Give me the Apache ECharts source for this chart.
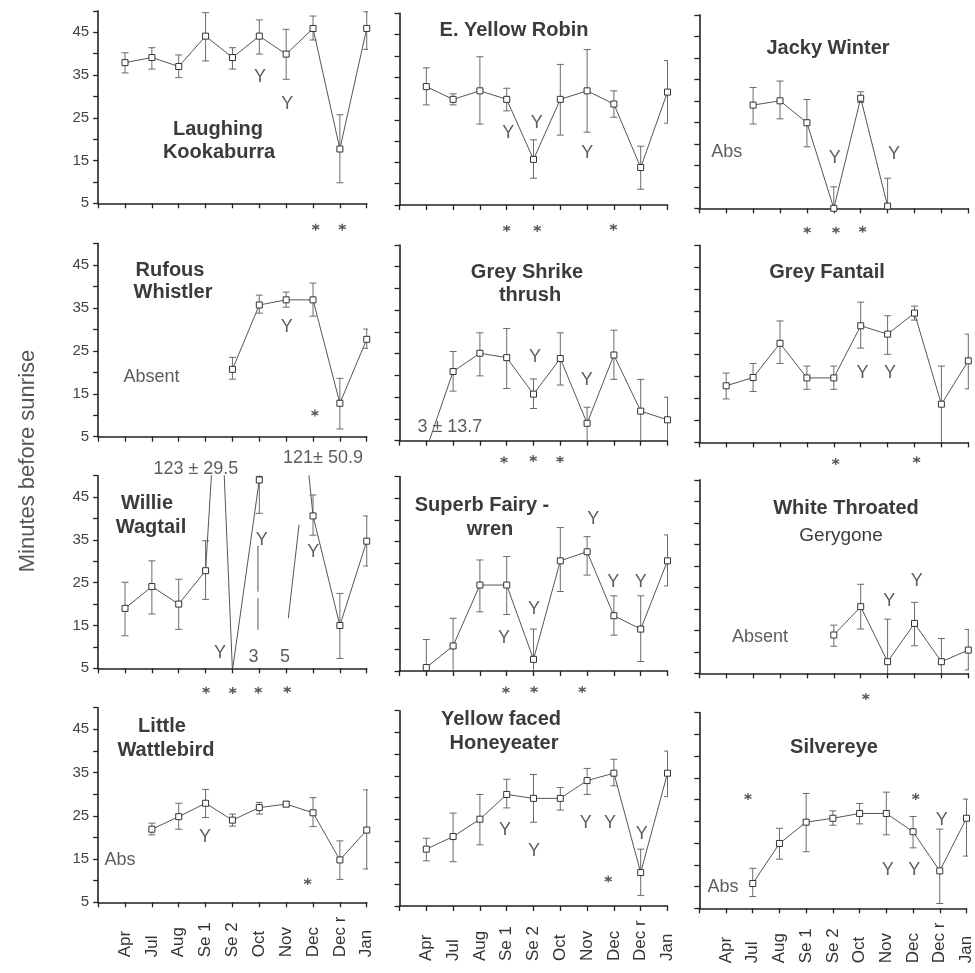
<!DOCTYPE html>
<html><head><meta charset="utf-8">
<script src="https://cdn.jsdelivr.net/npm/echarts@6/dist/echarts.min.js"></script>
<style>html,body{margin:0;padding:0;background:#fff}#c{width:975px;height:973px}</style>
</head><body><div id="c"></div>
<script>
// ---------- categories / ticks ----------
const months = ['Apr','Jul','Aug','Se 1','Se 2','Oct','Nov','Dec','Dec r','Jan'];
const yTickLabels = [5,15,25,35,45];

// ---------- series values (mean, lower, upper) ----------
const kookMean = [37.9,39.1,37.0,44.1,39.1,44.1,39.9,45.9,17.7,45.9];
const kookLow  = [35.5,36.4,34.4,38.3,36.4,39.9,34.0,43.2,9.8,41.0];
const kookHigh = [40.2,41.4,39.7,49.6,41.4,47.9,45.7,48.8,25.7,49.8];

const robinMean = [32.8,29.8,31.8,29.8,15.7,29.8,31.8,28.7,13.8,31.5];
const robinLow  = [28.5,28.5,24.0,27.1,11.3,21.4,22.1,25.6,8.7,24.2];
const robinHigh = [37.2,31.1,39.8,32.4,20.3,38.0,41.5,31.8,18.8,38.9];

const jackyMean = [null,29.0,30.0,24.9,5.0,30.6,5.5,null,null,null];
const jackyLow  = [null,24.6,25.8,19.3,2.0,29.6,2.0,null,null,null];
const jackyHigh = [null,33.1,34.6,30.3,10.0,32.1,12.0,null,null,null];

const rufousMean = [null,null,null,null,20.7,35.7,36.9,36.9,12.8,27.7];
const rufousLow  = [null,null,null,null,18.4,33.8,35.2,33.1,6.8,25.6];
const rufousHigh = [null,null,null,null,23.5,38.0,38.7,40.8,18.6,30.1];

const shrikeMean = [3.0,20.9,25.1,24.1,15.7,23.9,9.0,24.7,11.8,9.8];
const shrikeLow  = [null,16.4,19.9,17.0,12.4,17.8,2.0,19.1,2.0,2.0];
const shrikeHigh = [null,25.5,29.8,30.8,19.2,29.8,12.7,30.4,19.1,15.0];

const fantailMean = [17.9,19.8,27.6,19.7,19.7,31.6,29.7,34.5,13.7,23.6];
const fantailLow  = [14.9,16.6,23.0,17.1,17.1,26.5,25.1,32.9,2.0,17.2];
const fantailHigh = [20.8,23.0,32.7,22.4,22.4,37.0,33.9,36.1,22.4,29.7];

const wagtailMean = [19.0,24.1,20.0,27.8,4.5,49.0,103,40.6,15.0,34.7];
const wagtailLow  = [12.6,17.7,14.1,21.1,null,41.2,null,36.1,7.3,28.9];
const wagtailHigh = [25.1,30.1,25.8,34.8,null,49.8,null,45.5,22.5,40.6];
const wagtailPeak = [3.5,79];            // broken-axis peak between Se 1 and Se 2
const wagtailFragments = [               // stray line pieces in the scan
  [[4.95,33.6],[4.95,22.9]],
  [[4.95,21.4],[4.95,14.0]],
  [[6.08,16.7],[6.48,38.5]]
];

const wrenMean = [5.8,10.8,24.9,24.9,7.7,30.5,32.6,17.8,14.7,30.5];
const wrenLow  = [2.0,2.0,18.7,18.1,2.0,23.4,27.2,13.3,7.2,24.7];
const wrenHigh = [12.3,17.2,30.7,31.5,14.7,38.2,36.1,22.4,22.4,36.5];

const gerygoneMean = [null,null,null,null,13.9,20.5,7.7,16.6,7.7,10.4];
const gerygoneLow  = [null,null,null,null,11.3,15.3,2.0,11.4,2.0,5.8];
const gerygoneHigh = [null,null,null,null,16.2,25.7,17.6,21.5,13.1,15.2];

const wattleMean = [null,21.9,24.8,27.9,24.0,26.9,27.7,25.7,14.8,21.7];
const wattleLow  = [null,20.6,21.9,24.6,22.6,25.4,27.1,22.5,10.3,12.7];
const wattleHigh = [null,23.3,27.9,31.1,25.4,28.1,28.3,29.2,19.2,31.0];

const honeyMean = [18.1,21.0,25.0,30.7,29.8,29.8,33.9,35.6,12.7,35.6];
const honeyLow  = [15.4,15.2,19.1,27.6,24.3,27.1,30.7,32.7,7.4,30.2];
const honeyHigh = [20.6,26.4,30.7,34.2,35.3,32.3,36.7,38.8,18.1,40.7];

const silverMean = [null,10.7,19.9,24.8,25.7,26.8,26.8,22.6,13.6,25.7];
const silverLow  = [null,7.7,16.3,18.0,24.1,24.4,21.9,18.9,6.1,17.0];
const silverHigh = [null,14.2,23.4,31.4,27.4,29.1,31.7,26.1,23.2,30.1];

// ---------- annotations [x, value, text] and significance stars [x, value] ----------
const kookNotes = [[5.03,34.6,'Y'],[6.04,28.2,'Y']];
const kookStars = [[7.1,-0.6],[8.09,-0.6]];
const robinNotes = [[3.06,21.8,'Y'],[4.12,24.2,'Y'],[6.01,17.3,'Y']];
const robinStars = [[3.0,-0.5],[4.14,-0.5],[6.98,-0.2]];
const jackyNotes = [[0.02,18.2,'Abs'],[4.04,16.6,'Y'],[6.24,17.6,'Y']];
const jackyStars = [[3.01,-0.1],[4.08,-0.1],[5.07,0.1]];
const rufousNotes = [[0.99,19.0,'Absent'],[6.02,30.6,'Y']];
const rufousStars = [[7.07,10.5]];
const shrikeNotes = [[0.88,8.1,'3 ± 13.7'],[4.06,24.3,'Y'],[5.99,19.0,'Y']];
const shrikeStars = [[2.9,0.6],[3.99,0.9],[4.99,0.7]];
const fantailNotes = [[5.07,20.8,'Y'],[6.09,20.8,'Y']];
const fantailStars = [[4.07,0.6],[7.08,1.0]];
const wagtailNotes = [[2.64,51.6,'123 ± 29.5'],[7.37,54.1,'121± 50.9'],[5.09,35.0,'Y'],[7.01,32.2,'Y'],[3.54,8.5,'Y'],[4.78,7.7,'3'],[5.96,7.7,'5']];
const wagtailStars = [[3.02,-0.1],[4.01,-0.2],[4.96,-0.1],[6.04,0.0]];
const wrenNotes = [[2.9,12.6,'Y'],[4.02,19.3,'Y'],[6.23,40.1,'Y'],[6.98,25.7,'Y'],[8.0,25.7,'Y']];
const wrenStars = [[2.97,0.6],[4.02,0.7],[5.82,0.7]];
const gerygoneNotes = [[1.26,13.5,'Absent'],[6.06,21.7,'Y'],[7.08,26.5,'Y']];
const gerygoneStars = [[5.19,-0.4]];
const wattleNotes = [[-0.19,14.8,'Abs'],[2.98,20.2,'Y']];
const wattleStars = [[6.8,9.8]];
const honeyNotes = [[2.94,22.5,'Y'],[4.02,17.7,'Y'],[5.95,24.2,'Y'],[6.85,24.2,'Y'],[8.04,21.5,'Y']];
const honeyStars = [[6.79,11.2]];
const silverNotes = [[-0.11,10.0,'Abs'],[8.07,25.3,'Y'],[6.05,13.8,'Y'],[7.04,13.8,'Y']];
const silverStars = [[0.82,30.7],[7.1,30.7]];

// ---------- panel titles ----------
const titleLines = [
  ['Laughing',218,129,true],['Kookaburra',219,152,true],
  ['E. Yellow Robin',514,30,true],
  ['Jacky Winter',828,48,true],
  ['Rufous',170,270,true],['Whistler',173,292,true],
  ['Grey Shrike',527,272,true],['thrush',530,295,true],
  ['Grey Fantail',827,272,true],
  ['Willie',147,503,true],['Wagtail',151,527,true],
  ['Superb Fairy -',482,505,true],['wren',490,529,true],
  ['White Throated',846,508,true],['Gerygone',841,536,false],
  ['Little',162,726,true],['Wattlebird',166,750,true],
  ['Yellow faced',501,719,true],['Honeyeater',504,743,true],
  ['Silvereye',834,747,true]
];

// ---------- layout ----------
const colFirst = [125, 426.3, 726.2];
const colStep = [26.86, 26.8, 26.9];
const panelBottom = [203.3,205,208.3, 436.7,440.7,442.3, 668.3,671,673.3, 902.3,906,908.3];
const panelPPU = [4.275,4.26,4.3, 4.29,4.35,4.38, 4.28,4.32,4.3, 4.325,4.34,4.35];

const panels = [
  {m:kookMean,l:kookLow,h:kookHigh,n:kookNotes,s:kookStars},
  {m:robinMean,l:robinLow,h:robinHigh,n:robinNotes,s:robinStars},
  {m:jackyMean,l:jackyLow,h:jackyHigh,n:jackyNotes,s:jackyStars},
  {m:rufousMean,l:rufousLow,h:rufousHigh,n:rufousNotes,s:rufousStars},
  {m:shrikeMean,l:shrikeLow,h:shrikeHigh,n:shrikeNotes,s:shrikeStars},
  {m:fantailMean,l:fantailLow,h:fantailHigh,n:fantailNotes,s:fantailStars},
  {m:wagtailMean,l:wagtailLow,h:wagtailHigh,n:wagtailNotes,s:wagtailStars,peak:wagtailPeak,frag:wagtailFragments},
  {m:wrenMean,l:wrenLow,h:wrenHigh,n:wrenNotes,s:wrenStars},
  {m:gerygoneMean,l:gerygoneLow,h:gerygoneHigh,n:gerygoneNotes,s:gerygoneStars},
  {m:wattleMean,l:wattleLow,h:wattleHigh,n:wattleNotes,s:wattleStars},
  {m:honeyMean,l:honeyLow,h:honeyHigh,n:honeyNotes,s:honeyStars},
  {m:silverMean,l:silverLow,h:silverHigh,n:silverNotes,s:silverStars}
];

const FONT = 'Liberation Sans, Arial, Helvetica, sans-serif';
const AX = '#222';
const YMIN = 5, YMAX = 50;

const grids = [], xAxes = [], yAxes = [], series = [];

function renderErr(params, api) {
  const x = api.value(0), lo = api.value(1), hi = api.value(2);
  const loC = Math.max(lo, YMIN), hiC = Math.min(hi, YMAX);
  const p1 = api.coord([x, loC]), p2 = api.coord([x, hiC]);
  const w = 3.5;
  const st = {stroke:'#6a6a6a', lineWidth:1};
  const ch = [{type:'line', shape:{x1:p1[0],y1:p1[1],x2:p2[0],y2:p2[1]}, style:st}];
  if (lo >= YMIN) ch.push({type:'line', shape:{x1:p1[0]-w,y1:p1[1],x2:p1[0]+w,y2:p1[1]}, style:st});
  if (hi <= YMAX) ch.push({type:'line', shape:{x1:p2[0]-w,y1:p2[1],x2:p2[0]+w,y2:p2[1]}, style:st});
  return {type:'group', children:ch};
}

const starPath = 'path://M5,0L5,10M0.67,2.5L9.33,7.5M0.67,7.5L9.33,2.5';

panels.forEach((p, k) => {
  const r = Math.floor(k/3), c = k%3;
  const h = 45*panelPPU[k];
  grids.push({left: colFirst[c]-colStep[c], width: 10*colStep[c], top: panelBottom[k]-h, height: h, containLabel:false});
  xAxes.push({
    type:'value', gridIndex:k, min:-1, max:9, interval:1,
    axisLine:{show:true, onZero:false, lineStyle:{color:AX, width:1.6}},
    axisTick:{show:true, length:5, lineStyle:{color:AX, width:1.3}},
    splitLine:{show:false},
    axisLabel:{show: r===3, rotate:90, align:'left', verticalAlign:'middle', margin:55,
      fontFamily:FONT, fontSize:17, color:'#333',
      formatter: v => (v>=0 && v<=9 && Number.isInteger(v)) ? months[v] : ''}
  });
  yAxes.push({
    type:'value', gridIndex:k, min:YMIN, max:YMAX, interval:5,
    axisLine:{show:true, onZero:false, lineStyle:{color:AX, width:1.6}},
    axisTick:{show:true, length:5, lineStyle:{color:AX, width:1.3}},
    splitLine:{show:false},
    axisLabel:{show: c===0, fontFamily:FONT, fontSize:15, color:'#444', margin:9,
      formatter: v => yTickLabels.includes(v) ? String(v) : ''}
  });
  // error bars
  const err = [];
  p.m.forEach((v,i) => { if (v!==null && p.l[i]!==null && p.h[i]!==null) err.push([i, p.l[i], p.h[i]]); });
  series.push({type:'custom', xAxisIndex:k, yAxisIndex:k, renderItem:renderErr, data:err,
    encode:{x:0, y:[1,2]}, z:2, silent:true, clip:true});
  // line with squares
  const ld = [];
  p.m.forEach((v,i) => {
    if (v===null) return;
    ld.push([i, v]);
    if (p.peak && i===Math.floor(p.peak[0])) ld.push({value:p.peak, symbol:'none'});
  });
  series.push({type:'line', xAxisIndex:k, yAxisIndex:k, data:ld, clip:true,
    symbol:'rect', symbolSize:6, showSymbol:true,
    itemStyle:{color:'#fff', borderColor:'#333', borderWidth:1},
    lineStyle:{color:'#555', width:1}, z:3, silent:true});
  if (p.frag) p.frag.forEach(seg => series.push({type:'line', xAxisIndex:k, yAxisIndex:k, data:seg,
    symbol:'none', lineStyle:{color:'#555', width:1}, z:3, silent:true}));
  // annotations
  series.push({type:'scatter', xAxisIndex:k, yAxisIndex:k, clip:false, silent:true,
    data:p.n.map(a => ({value:[a[0],a[1]], name:a[2]})), symbolSize:1,
    itemStyle:{color:'rgba(0,0,0,0)'},
    label:{show:true, position:'inside', formatter: d => d.name, fontFamily:FONT, fontSize:18, color:'#333'}, z:4});
  series.push({type:'scatter', xAxisIndex:k, yAxisIndex:k, clip:false, silent:true,
    data:p.s, symbol:starPath, symbolSize:7,
    itemStyle:{color:'rgba(0,0,0,0)', borderColor:'#333', borderWidth:1.4}, z:4});
});

const graphics = titleLines.map(t => ({type:'text', x:t[1], y:t[2], silent:true,
  style:{text:t[0], fill:'#3b3b3b', font:(t[3]?'bold 20px ':'19px ')+FONT, textAlign:'center', textVerticalAlign:'middle'}}));
graphics.push({type:'text', x:28, y:461, rotation:Math.PI/2, silent:true,
  style:{text:'Minutes before sunrise', fill:'#555', font:'22px '+FONT, textAlign:'center', textVerticalAlign:'middle'}});

const chart = echarts.init(document.getElementById('c'), null, {renderer:'canvas'});
chart.setOption({animation:false, backgroundColor:'#fff', grid:grids, xAxis:xAxes, yAxis:yAxes, series:series, graphic:graphics});
</script></body></html>
